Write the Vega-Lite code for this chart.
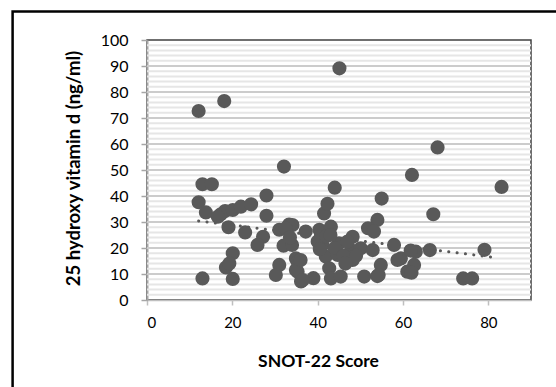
{
  "$schema": "https://vega.github.io/schema/vega-lite/v6.json",
  "autosize": {"type": "none"},
  "width": 384,
  "height": 260,
  "padding": {"left": 147, "top": 40, "right": 25, "bottom": 87},
  "background": "white",
  "datasets": {
    "pts": [
      {"snot": 12.1, "vitd": 72.7}, {"snot": 18.1, "vitd": 76.5}, {"snot": 45.1, "vitd": 89.1},
      {"snot": 32.1, "vitd": 51.3}, {"snot": 68.1, "vitd": 58.7}, {"snot": 83.1, "vitd": 43.5},
      {"snot": 62.1, "vitd": 48.1}, {"snot": 44.0, "vitd": 43.2}, {"snot": 55.0, "vitd": 39.0},
      {"snot": 67.1, "vitd": 33.0}, {"snot": 79.1, "vitd": 19.3}, {"snot": 74.1, "vitd": 8.3},
      {"snot": 76.2, "vitd": 8.3}, {"snot": 13.0, "vitd": 44.5}, {"snot": 15.2, "vitd": 44.5},
      {"snot": 12.1, "vitd": 37.6}, {"snot": 13.8, "vitd": 33.7}, {"snot": 17.3, "vitd": 33.0},
      {"snot": 18.3, "vitd": 34.2}, {"snot": 20.1, "vitd": 34.6}, {"snot": 22.0, "vitd": 35.9},
      {"snot": 24.4, "vitd": 36.8}, {"snot": 16.6, "vitd": 32.0}, {"snot": 19.1, "vitd": 28.0},
      {"snot": 23.0, "vitd": 26.0}, {"snot": 28.0, "vitd": 40.2}, {"snot": 28.0, "vitd": 32.4},
      {"snot": 27.2, "vitd": 24.3}, {"snot": 25.9, "vitd": 21.2}, {"snot": 20.1, "vitd": 18.0},
      {"snot": 18.5, "vitd": 12.5}, {"snot": 19.3, "vitd": 14.0}, {"snot": 13.0, "vitd": 8.3},
      {"snot": 20.1, "vitd": 8.1}, {"snot": 31.0, "vitd": 27.0}, {"snot": 33.3, "vitd": 29.0},
      {"snot": 34.1, "vitd": 28.8}, {"snot": 37.2, "vitd": 26.3}, {"snot": 40.4, "vitd": 27.0},
      {"snot": 43.1, "vitd": 28.2}, {"snot": 32.0, "vitd": 20.9}, {"snot": 34.0, "vitd": 21.2},
      {"snot": 31.0, "vitd": 13.5}, {"snot": 34.9, "vitd": 16.0}, {"snot": 30.2, "vitd": 9.6},
      {"snot": 35.3, "vitd": 10.9}, {"snot": 36.1, "vitd": 7.1}, {"snot": 39.0, "vitd": 8.4},
      {"snot": 41.5, "vitd": 33.3}, {"snot": 42.3, "vitd": 37.0}, {"snot": 41.1, "vitd": 21.2},
      {"snot": 45.0, "vitd": 21.8}, {"snot": 48.2, "vitd": 24.3}, {"snot": 47.8, "vitd": 19.2},
      {"snot": 50.1, "vitd": 19.9}, {"snot": 52.9, "vitd": 19.2}, {"snot": 41.9, "vitd": 16.7},
      {"snot": 44.7, "vitd": 17.3}, {"snot": 48.2, "vitd": 15.4}, {"snot": 42.7, "vitd": 12.2},
      {"snot": 35.3, "vitd": 14.7}, {"snot": 34.9, "vitd": 11.5}, {"snot": 43.1, "vitd": 8.3},
      {"snot": 45.4, "vitd": 9.0}, {"snot": 50.9, "vitd": 9.0}, {"snot": 54.0, "vitd": 9.2},
      {"snot": 54.8, "vitd": 13.5}, {"snot": 54.0, "vitd": 30.8}, {"snot": 51.8, "vitd": 27.6},
      {"snot": 53.2, "vitd": 26.3}, {"snot": 57.9, "vitd": 21.2}, {"snot": 59.5, "vitd": 16.0},
      {"snot": 63.0, "vitd": 18.6}, {"snot": 66.3, "vitd": 19.2}, {"snot": 62.6, "vitd": 13.5},
      {"snot": 61.0, "vitd": 10.9}, {"snot": 62.0, "vitd": 10.5}, {"snot": 40.0, "vitd": 22.5},
      {"snot": 42.0, "vitd": 24.5}, {"snot": 44.0, "vitd": 20.0}, {"snot": 46.0, "vitd": 17.0},
      {"snot": 47.0, "vitd": 22.5}, {"snot": 43.0, "vitd": 25.0}, {"snot": 40.5, "vitd": 19.5},
      {"snot": 49.0, "vitd": 17.0}, {"snot": 46.5, "vitd": 14.0}, {"snot": 32.5, "vitd": 27.5},
      {"snot": 33.5, "vitd": 24.0}, {"snot": 36.0, "vitd": 15.4}, {"snot": 36.5, "vitd": 7.7},
      {"snot": 58.7, "vitd": 15.4}, {"snot": 61.8, "vitd": 19.0}, {"snot": 54.3, "vitd": 9.6}
    ],
    "trend": [
      {"snot": 12.1, "vitd": 30.4},
      {"snot": 81.3, "vitd": 16.4}
    ],
    "minor": [
      {"vitd": 2}, {"vitd": 4}, {"vitd": 6}, {"vitd": 8}, {"vitd": 12}, {"vitd": 14}, {"vitd": 16}, {"vitd": 18},
      {"vitd": 22}, {"vitd": 24}, {"vitd": 26}, {"vitd": 28}, {"vitd": 32}, {"vitd": 34}, {"vitd": 36}, {"vitd": 38},
      {"vitd": 42}, {"vitd": 44}, {"vitd": 46}, {"vitd": 48}, {"vitd": 52}, {"vitd": 54}, {"vitd": 56}, {"vitd": 58},
      {"vitd": 62}, {"vitd": 64}, {"vitd": 66}, {"vitd": 68}, {"vitd": 72}, {"vitd": 74}, {"vitd": 76}, {"vitd": 78},
      {"vitd": 82}, {"vitd": 84}, {"vitd": 86}, {"vitd": 88}, {"vitd": 92}, {"vitd": 94}, {"vitd": 96}, {"vitd": 98}
    ],
    "major": [
      {"vitd": 10}, {"vitd": 20}, {"vitd": 30}, {"vitd": 40}, {"vitd": 50},
      {"vitd": 60}, {"vitd": 70}, {"vitd": 80}, {"vitd": 90}
    ]
  },
  "resolve": {"scale": {"x": "independent", "y": "independent"}, "axis": {"x": "independent", "y": "independent"}},
  "layer": [
    {
      "data": {"values": [{}]},
      "mark": {"type": "rect", "filled": false, "stroke": "#000000", "strokeWidth": 2.5, "clip": false},
      "encoding": {
        "x": {"datum": -31.5, "type": "quantitative", "scale": {"domain": [0, 90], "nice": false, "zero": false}, "axis": null},
        "x2": {"datum": 110},
        "y": {"datum": 110.96, "type": "quantitative", "scale": {"domain": [0, 100], "nice": false}, "axis": null},
        "y2": {"datum": -40}
      }
    },
    {
      "layer": [
        {
          "data": {"name": "minor"},
          "mark": {"type": "rule", "color": "#e6e6e6", "strokeWidth": 2},
          "encoding": {
            "y": {"field": "vitd", "type": "quantitative", "scale": {"domain": [0, 100], "nice": false}}
          }
        },
        {
          "data": {"name": "major"},
          "mark": {"type": "rule", "color": "#cccccc", "strokeWidth": 2},
          "encoding": {
            "y": {"field": "vitd", "type": "quantitative", "scale": {"domain": [0, 100], "nice": false}}
          }
        },
        {
          "data": {"name": "trend"},
          "mark": {"type": "line", "color": "#595959", "strokeWidth": 3, "strokeDash": [0.1, 8.3], "strokeCap": "round"},
          "encoding": {
            "x": {"field": "snot", "type": "quantitative", "scale": {"domain": [0, 90], "nice": false, "zero": false}},
            "y": {"field": "vitd", "type": "quantitative", "scale": {"domain": [0, 100], "nice": false}}
          }
        },
        {
          "data": {"name": "pts"},
          "mark": {"type": "circle", "size": 200, "opacity": 1, "color": "#595959"},
          "encoding": {
            "x": {
              "field": "snot", "type": "quantitative",
              "scale": {"domain": [0, 90], "nice": false, "zero": false},
              "axis": {
                "title": "SNOT-22 Score",
                "values": [0, 20, 40, 60, 80],
                "grid": false,
                "domainColor": "#bfbfbf", "domainWidth": 1.5,
                "tickColor": "#bfbfbf", "tickSize": 5, "tickWidth": 1.5,
                "labelFont": "Lato", "labelFontSize": 15, "labelColor": "#000000", "labelPadding": 10,
                "titleFont": "Lato", "titleFontSize": 17.5, "titleFontWeight": "bold", "titleColor": "#000000",
                "titleX": 171, "titleY": 52, "titleBaseline": "top", "titleAlign": "center"
              }
            },
            "y": {
              "field": "vitd", "type": "quantitative",
              "scale": {"domain": [0, 100], "nice": false},
              "axis": {
                "title": "25 hydroxy vitamin d (ng/ml)",
                "values": [0, 10, 20, 30, 40, 50, 60, 70, 80, 90, 100],
                "tickCount": 11,
                "grid": false,
                "domainColor": "#a6a6a6", "domainWidth": 2,
                "tickColor": "#a6a6a6", "tickSize": 6, "tickWidth": 1.5,
                "labelOverlap": false,
                "labelFont": "Lato", "labelFontSize": 16, "labelColor": "#000000", "labelPadding": 13,
                "titleFont": "Lato", "titleFontSize": 18.5, "titleFontWeight": "bold", "titleColor": "#000000",
                "titleX": -74, "titleY": 128, "titleBaseline": "middle", "titleAlign": "center", "titleAngle": -90
              }
            }
          }
        }
      ]
    }
  ],
  "config": {
    "view": {"stroke": "#404040", "strokeWidth": 1.5},
    "font": "Lato"
  }
}
